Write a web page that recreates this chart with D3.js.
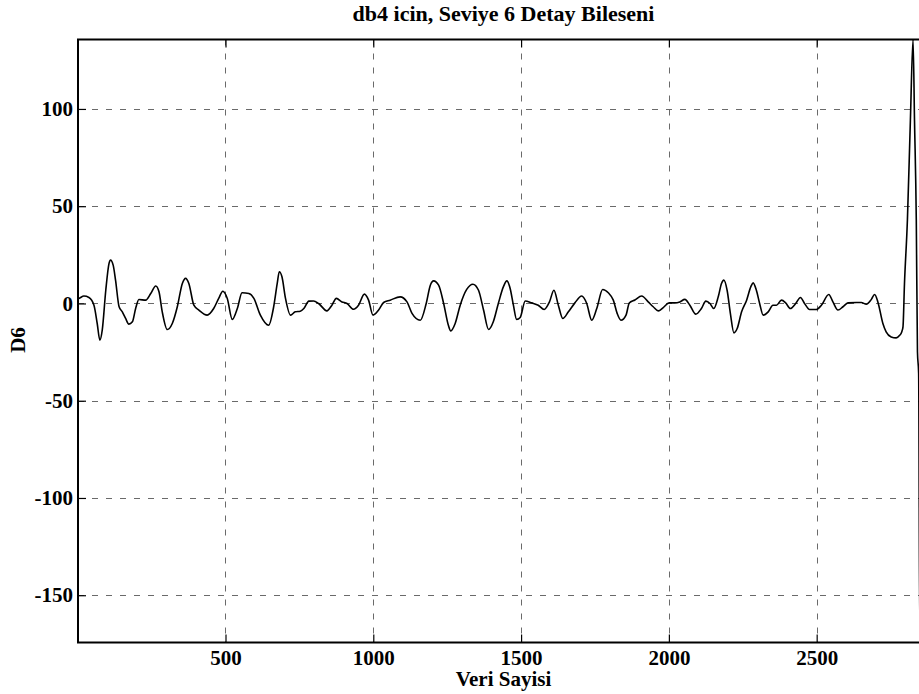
<!DOCTYPE html>
<html>
<head>
<meta charset="utf-8">
<script src="https://cdn.jsdelivr.net/npm/d3@7"></script>
<style>
  body { margin: 0; background: #fff; }
  svg { display: block; }
  text { font-family: "Liberation Serif", "Times New Roman", serif; font-weight: bold; fill: #000; }
</style>
</head>
<body>
<svg id="chart" width="919" height="694"></svg>
<script>
// Level-6 detail coefficients (db4), sample index vs. value
const sampleIdx = [
  1, 4, 21, 38, 55, 66, 75, 83, 95, 106, 111, 120, 128, 140, 151, 162, 173, 185, 196, 207,
  230, 247, 264, 275, 286, 303, 320, 337, 354, 365, 376, 393, 410, 438, 460, 477, 491, 506, 523, 540,
  556, 579, 596, 618, 646, 663, 675, 682, 691, 703, 720, 736, 753, 765, 782, 798, 815, 843, 860, 875,
  894, 911, 933, 950, 970, 984, 999, 1018, 1035, 1057, 1091, 1114, 1131, 1159, 1179, 1193, 1204, 1221, 1238, 1254,
  1262, 1277, 1294, 1316, 1337, 1356, 1373, 1390, 1406, 1423, 1440, 1452, 1463, 1474, 1485, 1497, 1514, 1536, 1558, 1578,
  1596, 1611, 1626, 1641, 1660, 1682, 1705, 1722, 1739, 1756, 1776, 1795, 1812, 1825, 1838, 1855, 1866, 1885, 1908, 1930,
  1947, 1964, 1981, 2001, 2020, 2037, 2054, 2071, 2091, 2110, 2125, 2139, 2152, 2167, 2178, 2186, 2197, 2208, 2220, 2231,
  2246, 2263, 2277, 2285, 2296, 2307, 2319, 2336, 2352, 2364, 2381, 2395, 2411, 2429, 2445, 2459, 2476, 2499, 2516, 2541,
  2555, 2572, 2589, 2606, 2634, 2651, 2668, 2685, 2696, 2707, 2724, 2735, 2752, 2769, 2780, 2788, 2792, 2797, 2807, 2817,
  2826, 2831, 2837, 2841, 2845, 2849, 2853, 2860, 2870, 2880
];
const d6Values = [
  2.5, 2.6, 3.8, 3.1, -0.9, -10.3, -18.9, -13.7, 6.8, 20.6, 22.3, 19.7, 12, -1.7, -4.3, -7.7, -10.6, -9.4, -2.6, 2,
  1.7, 5.1, 9, 6, -4.3, -13.4, -10.3, -1.7, 10.3, 12.9, 10.3, -0.9, -3.4, -6, -2.6, 2.6, 6.3, 2.6, -8.2, -2.6,
  5.5, 5.1, 2.6, -6, -11.2, -1.7, 10.3, 16.3, 13.7, 2.6, -6, -4.3, -4, -2.6, 1.2, 1.3, 0, -3.8, -0.9, 2.6,
  0.8, 0, -3, -0.9, 4.8, 1.7, -6, -3.4, 0.5, 1.7, 3.4, 0.8, -5.1, -8.6, 0, 9.4, 11.6, 9.4, 0, -11.2,
  -14.1, -10.3, -0.9, 7.2, 9.9, 6.8, -3.4, -13.4, -9.4, 0, 8.5, 11.6, 7.7, -0.9, -8.2, -7.2, 1.3, 0.3, -0.9, -3.1,
  0.8, 6.8, -0.9, -7.7, -4.3, 0.3, 3.8, 0, -8.6, -2.6, 7.2, 5.5, 1.7, -5.1, -8.6, -6, 0.2, 1.8, 3.8, 0.8,
  -1.7, -3.8, -2.1, 0.3, 0.3, 0.8, 2.1, -0.9, -5.5, -2.6, 1.2, 0, -2.6, 3.4, 10.3, 12, 6.8, -5.1, -15.1, -12.9,
  -4.3, 1.7, 8.5, 10.6, 6.8, 0, -6, -4.3, -0.9, -0.9, 1.7, 0.3, -2.6, 0, 3.1, 0, -3.1, -3.1, -0.9, 4.6,
  0.8, -3.4, -1.7, 0.3, 0.5, 0.5, -0.4, 2.1, 4.6, 0.8, -10.3, -14.6, -17.2, -17.7, -16.5, -14.5, -12, 10, 43, 94,
  135.7, 94, 43, -25, -36, -174.3, -150, -80, -20, 5
];
const xTicks = [500, 1000, 1500, 2000, 2500];
const yTicks = [-150, -100, -50, 0, 50, 100];
const titleText = "db4 icin, Seviye 6 Detay Bileseni";
const xLabel = "Veri Sayisi";
const yLabel = "D6";

const plot = { left: 78, right: 929, top: 39.5, bottom: 642.5 };
const svg = d3.select("#chart");
const serif = '"Liberation Serif", "Times New Roman", serif';

const x = d3.scaleLinear().domain([1, 2880]).range([plot.left, plot.right]);
const y = d3.scaleLinear().domain(d3.extent(d6Values)).range([plot.bottom, plot.top]);

const snap = v => Math.round(v) + 0.5;
const plain = d => String(d);

// dashed grid
const grid = svg.append("g").attr("stroke", "#6a6a6a").attr("stroke-width", 1)
  .attr("stroke-dasharray", "6,8").attr("fill", "none");
grid.selectAll("line.v").data(xTicks).join("line")
  .attr("x1", d => snap(x(d))).attr("x2", d => snap(x(d)))
  .attr("y1", plot.top).attr("y2", plot.bottom);
grid.selectAll("line.h").data(yTicks).join("line")
  .attr("x1", plot.left).attr("x2", plot.right)
  .attr("y1", d => snap(y(d))).attr("y2", d => snap(y(d)));

// signal
const pts = sampleIdx.map((s, i) => [s, d6Values[i]]);
svg.append("path")
  .datum(pts)
  .attr("fill", "none")
  .attr("stroke", "#000")
  .attr("stroke-width", 1.6)
  .attr("stroke-linejoin", "round")
  .attr("d", d3.line().x(d => x(d[0])).y(d => y(d[1])).curve(d3.curveMonotoneX));

// axes with inward ticks
const tick = 8;
const gx = svg.append("g").attr("transform", `translate(0,${plot.bottom})`)
  .call(d3.axisBottom(x).tickValues(xTicks).tickFormat(plain).tickSize(-tick).tickSizeOuter(0).tickPadding(8));
const gxTop = svg.append("g").attr("transform", `translate(0,${plot.top})`)
  .call(d3.axisTop(x).tickValues(xTicks).tickSize(-tick).tickSizeOuter(0).tickFormat(""));
const gy = svg.append("g").attr("transform", `translate(${plot.left},0)`)
  .call(d3.axisLeft(y).tickValues(yTicks).tickFormat(plain).tickSize(-tick).tickSizeOuter(0).tickPadding(5));
const gyRight = svg.append("g").attr("transform", `translate(${plot.right},0)`)
  .call(d3.axisRight(y).tickValues(yTicks).tickSize(-tick).tickSizeOuter(0).tickFormat(""));

[gx, gxTop, gy, gyRight].forEach(g => {
  g.attr("font-family", serif).attr("font-size", 21).attr("font-weight", "bold");
  g.select(".domain").remove();
  g.selectAll(".tick line").attr("stroke", "#000").attr("stroke-width", 1.2);
  g.selectAll("text").attr("fill", "#000");
});

// frame
svg.append("rect")
  .attr("x", plot.left).attr("y", plot.top)
  .attr("width", plot.right - plot.left).attr("height", plot.bottom - plot.top)
  .attr("fill", "none").attr("stroke", "#000").attr("stroke-width", 2);

// labels
const cx = (plot.left + plot.right) / 2;
svg.append("text").attr("x", cx).attr("y", 21).attr("text-anchor", "middle")
  .attr("font-size", 22).text(titleText);
svg.append("text").attr("x", cx).attr("y", 686).attr("text-anchor", "middle")
  .attr("font-size", 21).text(xLabel);
svg.append("text").attr("transform", `translate(25,340) rotate(-90)`).attr("text-anchor", "middle")
  .attr("font-size", 21).text(yLabel);
</script>
</body>
</html>
